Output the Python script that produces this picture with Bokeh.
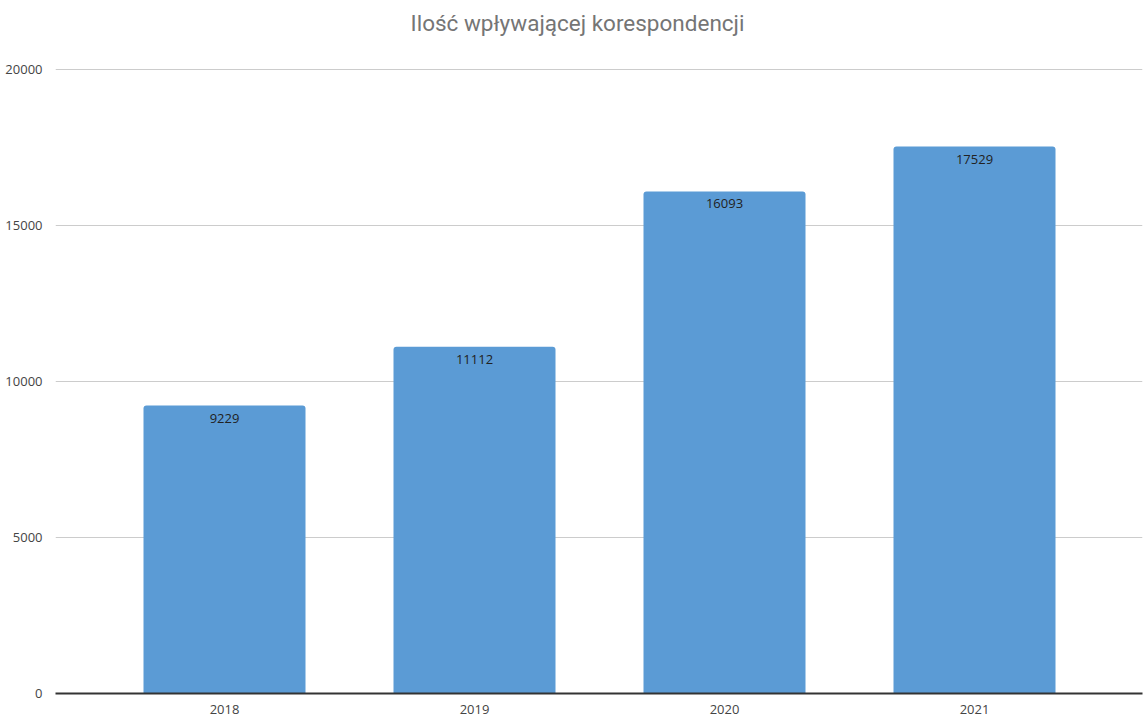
from bokeh.plotting import figure
from bokeh.models import ColumnDataSource, FixedTicker, Range1d, LabelSet, Label
from bokeh.core.properties import value
from bokeh.embed import file_html
from bokeh.resources import INLINE

years = ["2018", "2019", "2020", "2021"]
counts = [9229, 11112, 16093, 17529]
y_ticks = [0, 5000, 10000, 15000, 20000]
title_text = "Ilość wpływającej korespondencji"

xs = list(range(len(years)))
src = ColumnDataSource(dict(x=xs, top=counts, label=[str(c) for c in counts]))

# frame spans the full height; the area above 20000 holds the title
y_top = 20000 * 693 / 624
p = figure(width=1144, height=716, output_backend="svg", toolbar_location=None,
           x_range=Range1d(-0.676, 3.672), y_range=Range1d(0, y_top),
           min_border_left=55, min_border_right=2, min_border_top=0, min_border_bottom=23)
p.outline_line_color = None

title = Label(x=1.412, y=20000 * (693 - 22) / 624, text=title_text,
              text_align="center", text_baseline="middle", text_font="Roboto",
              text_font_size="22.5px", text_color="#757575")
p.add_layout(title)

p.vbar(x="x", top="top", width=0.648, source=src, fill_color="#5B9BD5",
       line_color=None, border_radius=(3, 3, 0, 0))

labels = LabelSet(x="x", y="top", text="label", source=src, text_align="center",
                  text_baseline="top", y_offset=-8, text_font_size="13px",
                  text_font=value("Open Sans"), text_color="#222222")
p.add_layout(labels)

p.xaxis.ticker = FixedTicker(ticks=xs)
p.xaxis.major_label_overrides = {i: y for i, y in enumerate(years)}
p.yaxis.ticker = FixedTicker(ticks=y_ticks)
for ax in (p.xaxis, p.yaxis):
    ax.major_tick_line_color = None
    ax.minor_tick_line_color = None
    ax.major_label_text_font = "Open Sans"
    ax.major_label_text_font_size = "13px"
    ax.major_label_text_color = "#444444"
p.yaxis.axis_line_color = None
p.yaxis.major_label_standoff = 7
p.xaxis.axis_line_color = "#333333"
p.xaxis.axis_line_width = 2
p.xaxis.major_label_standoff = 5

p.xgrid.grid_line_color = None
p.ygrid.grid_line_color = "#cccccc"
p.ygrid.grid_line_width = 1

open("out.html", "w").write(file_html(p, INLINE))
